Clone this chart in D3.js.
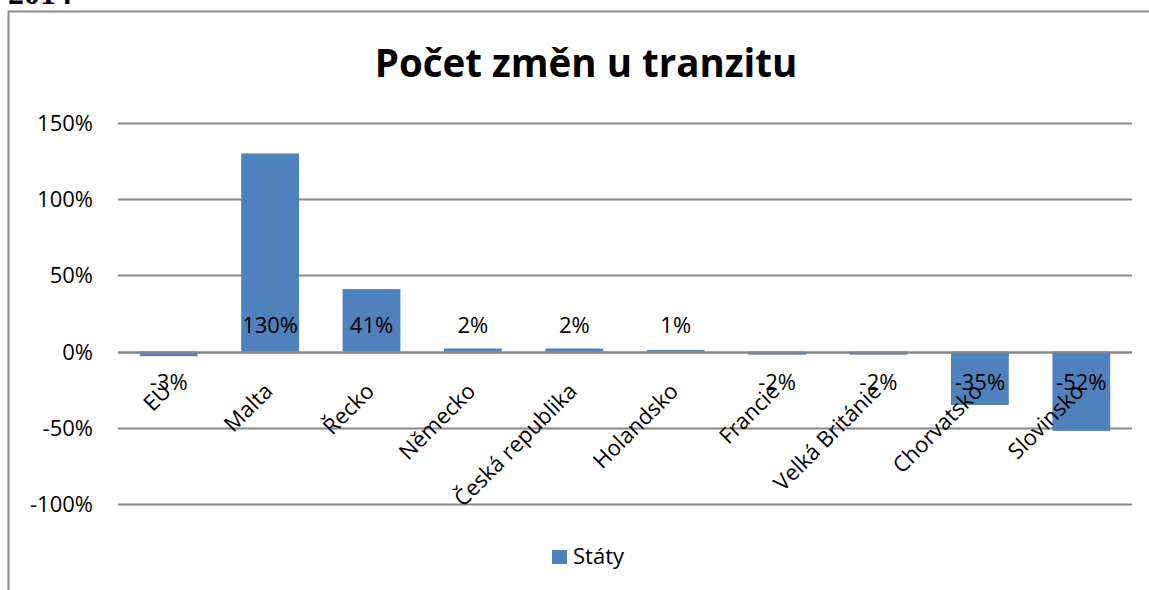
<!DOCTYPE html>
<html>
<head>
<meta charset="utf-8">
<script src="https://cdn.jsdelivr.net/npm/d3@7"></script>
<style>
  body { margin: 0; background: #fff; }
  svg { display: block; }
  text { font-family: "Open Sans", Lato, sans-serif; fill: #000; }
</style>
</head>
<body>
<svg width="1149" height="590"></svg>
<script>
var countries = ['EU', 'Malta', 'Řecko', 'Německo', 'Česká republika', 'Holandsko', 'Francie', 'Velká Británie', 'Chorvatsko', 'Slovinsko'];
var changes = [-3, 130, 41, 2, 2, 1, -2, -2, -35, -52];
var yTicks = [-100, -50, 0, 50, 100, 150];

var svg = d3.select('svg');
var width = 1149;
var height = 590;
var fs = '22px';

// heading text cut off above the chart frame
svg.append('text')
  .attr('x', 8)
  .attr('y', 4)
  .style('font-family', '"Liberation Serif", serif')
  .style('font-weight', 'bold')
  .style('font-size', '32px')
  .text('2014');

// chart frame
svg.append('rect')
  .attr('x', 8.5)
  .attr('y', 11.5)
  .attr('width', width)
  .attr('height', height)
  .attr('fill', 'none')
  .attr('stroke', '#888')
  .attr('stroke-width', 2);

svg.append('text')
  .attr('x', 586)
  .attr('y', 77)
  .attr('text-anchor', 'middle')
  .style('font-weight', 'bold')
  .style('font-size', '38.5px')
  .text('Počet změn u tranzitu');

var x = d3.scaleBand()
  .domain(countries)
  .range([118, 1132])
  .paddingInner(0.43)
  .paddingOuter(0.215);

var y = d3.scaleLinear()
  .domain([-100, 150])
  .range([504, 123]);

var grid = svg.append('g');
grid.selectAll('line')
  .data(yTicks)
  .enter()
  .append('line')
  .attr('x1', 118)
  .attr('x2', 1132)
  .attr('y1', d => Math.round(y(d)) + 0.5)
  .attr('y2', d => Math.round(y(d)) + 0.5)
  .attr('stroke', '#868686')
  .attr('stroke-width', 2);

grid.selectAll('text')
  .data(yTicks)
  .enter()
  .append('text')
  .attr('x', 93)
  .attr('y', d => y(d) + 8)
  .attr('text-anchor', 'end')
  .style('font-size', fs)
  .text(d => d + '%');

svg.append('g')
  .selectAll('rect')
  .data(changes)
  .enter()
  .append('rect')
  .attr('x', (d, i) => x(countries[i]))
  .attr('width', x.bandwidth())
  .attr('y', d => y(Math.max(0, d)))
  .attr('height', d => Math.abs(y(d) - y(0)))
  .attr('fill', '#4F81BD');

// zero line over bars
svg.append('line')
  .attr('x1', 118)
  .attr('x2', 1132)
  .attr('y1', Math.round(y(0)) + 0.5)
  .attr('y2', Math.round(y(0)) + 0.5)
  .attr('stroke', '#868686')
  .attr('stroke-width', 2);

// category labels
svg.append('g')
  .selectAll('text')
  .data(countries)
  .enter()
  .append('text')
  .attr('text-anchor', 'end')
  .attr('transform', d => 'translate(' + (x(d) + x.bandwidth() / 2 + 4) + ',' + (y(0) + 41) + ') rotate(-45)')
  .style('font-size', fs)
  .text(d => d);

// data labels (inside base)
svg.append('g')
  .selectAll('text')
  .data(changes)
  .enter()
  .append('text')
  .attr('x', (d, i) => x(countries[i]) + x.bandwidth() / 2)
  .attr('y', d => d >= 0 ? y(0) - 19 : y(0) + 38)
  .attr('text-anchor', 'middle')
  .style('font-size', fs)
  .text(d => d + '%');

// legend
var legend = svg.append('g').attr('transform', 'translate(552,550)');
legend.append('rect')
  .attr('width', 15)
  .attr('height', 14)
  .attr('fill', '#4F81BD');
legend.append('text')
  .attr('x', 21)
  .attr('y', 14)
  .style('font-size', fs)
  .text('Státy');
</script>
</body>
</html>
